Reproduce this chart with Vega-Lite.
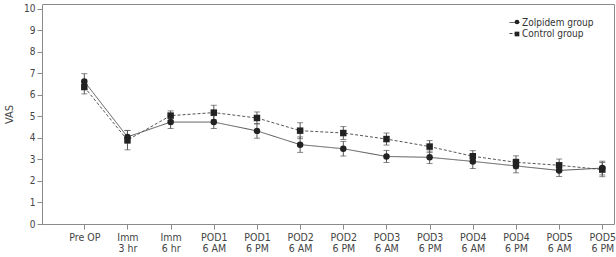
{
  "$schema": "https://vega.github.io/schema/vega-lite/v6.json",
  "width": 572,
  "height": 220,
  "autosize": {"type": "none"},
  "padding": {"left": 42, "top": 4, "right": 2, "bottom": 33},
  "background": "white",
  "config": {
    "font": "Liberation Sans Narrow, DejaVu Sans Condensed, sans-serif",
    "view": {"stroke": "#8a8a8a", "strokeWidth": 1},
    "axis": {
      "domain": false,
      "grid": false,
      "tickColor": "#8a8a8a",
      "tickSize": 5,
      "labelColor": "#444444",
      "labelFontSize": 10,
      "titleColor": "#444444",
      "titleFontSize": 11,
      "titleFontWeight": "normal"
    },
    "legend": {"padding": 0, "rowPadding": 0, "title": null}
  },
  "resolve": {
    "scale": {"strokeDash": "independent", "shape": "independent"},
    "legend": {"strokeDash": "independent", "shape": "independent"}
  },
  "data": {
    "values": [
      {"time": "Pre OP", "group": "Zolpidem group", "vas": 6.63, "se": 0.36},
      {"time": "Imm 3 hr", "group": "Zolpidem group", "vas": 4.05, "se": 0.30},
      {"time": "Imm 6 hr", "group": "Zolpidem group", "vas": 4.74, "se": 0.30},
      {"time": "POD1 6 AM", "group": "Zolpidem group", "vas": 4.74, "se": 0.30},
      {"time": "POD1 6 PM", "group": "Zolpidem group", "vas": 4.33, "se": 0.34},
      {"time": "POD2 6 AM", "group": "Zolpidem group", "vas": 3.69, "se": 0.36},
      {"time": "POD2 6 PM", "group": "Zolpidem group", "vas": 3.50, "se": 0.34},
      {"time": "POD3 6 AM", "group": "Zolpidem group", "vas": 3.14, "se": 0.28},
      {"time": "POD3 6 PM", "group": "Zolpidem group", "vas": 3.10, "se": 0.29},
      {"time": "POD4 6 AM", "group": "Zolpidem group", "vas": 2.91, "se": 0.33},
      {"time": "POD4 6 PM", "group": "Zolpidem group", "vas": 2.70, "se": 0.32},
      {"time": "POD5 6 AM", "group": "Zolpidem group", "vas": 2.49, "se": 0.28},
      {"time": "POD5 6 PM", "group": "Zolpidem group", "vas": 2.60, "se": 0.32},
      {"time": "Pre OP", "group": "Control group", "vas": 6.37, "se": 0.32},
      {"time": "Imm 3 hr", "group": "Control group", "vas": 3.90, "se": 0.45},
      {"time": "Imm 6 hr", "group": "Control group", "vas": 5.04, "se": 0.22},
      {"time": "POD1 6 AM", "group": "Control group", "vas": 5.18, "se": 0.34},
      {"time": "POD1 6 PM", "group": "Control group", "vas": 4.93, "se": 0.28},
      {"time": "POD2 6 AM", "group": "Control group", "vas": 4.34, "se": 0.37},
      {"time": "POD2 6 PM", "group": "Control group", "vas": 4.23, "se": 0.30},
      {"time": "POD3 6 AM", "group": "Control group", "vas": 3.95, "se": 0.28},
      {"time": "POD3 6 PM", "group": "Control group", "vas": 3.60, "se": 0.28},
      {"time": "POD4 6 AM", "group": "Control group", "vas": 3.15, "se": 0.26},
      {"time": "POD4 6 PM", "group": "Control group", "vas": 2.87, "se": 0.30},
      {"time": "POD5 6 AM", "group": "Control group", "vas": 2.73, "se": 0.29},
      {"time": "POD5 6 PM", "group": "Control group", "vas": 2.53, "se": 0.33}
    ]
  },
  "encoding": {
    "x": {
      "field": "time",
      "type": "ordinal",
      "sort": null,
      "scale": {"type": "point", "range": [42.3, 560.3], "padding": 0},
      "axis": {
        "title": null,
        "labelAngle": 0,
        "labelPadding": 3,
        "labelFontSize": 10.5,
        "labelLineHeight": 11,
        "labelExpr": "datum.label == 'Pre OP' ? datum.label : [slice(datum.label, 0, indexof(datum.label, ' ')), slice(datum.label, indexof(datum.label, ' ') + 1)]"
      }
    },
    "y": {
      "field": "vas",
      "type": "quantitative",
      "scale": {"domain": [0, 10.23], "nice": false},
      "axis": {"title": "VAS", "values": [0, 1, 2, 3, 4, 5, 6, 7, 8, 9, 10], "labelPadding": 2, "titlePadding": 9}
    }
  },
  "layer": [
    {
      "mark": {"type": "line", "color": "#555555", "strokeWidth": 1},
      "encoding": {
        "detail": {"field": "group"},
        "strokeDash": {
          "field": "group",
          "scale": {"domain": ["Zolpidem group", "Control group"], "range": [[1, 0], [3, 2]]},
          "legend": {
            "orient": "none",
            "legendX": 467,
            "legendY": 13,
            "symbolSize": 100,
            "symbolStrokeWidth": 1,
            "symbolStrokeColor": "#444444",
            "labelOffset": 2,
            "labelFontSize": 10,
            "labelColor": "#333333"
          }
        }
      }
    },
    {
      "mark": {
        "type": "errorbar",
        "ticks": {"size": 6, "color": "#555555", "thickness": 1},
        "rule": {"color": "#555555", "strokeWidth": 1}
      },
      "encoding": {
        "yError": {"field": "se"},
        "detail": {"field": "group"}
      }
    },
    {
      "mark": {"type": "point", "filled": true, "color": "#222222", "opacity": 1, "size": 42},
      "encoding": {
        "shape": {
          "field": "group",
          "scale": {"domain": ["Zolpidem group", "Control group"], "range": ["circle", "square"]},
          "legend": {
            "orient": "none",
            "legendX": 470,
            "legendY": 13,
            "symbolSize": 22,
            "symbolFillColor": "#222222",
            "symbolOpacity": 1,
            "labelOffset": 2,
            "labelFontSize": 10,
            "labelExpr": "''"
          }
        }
      }
    }
  ]
}
